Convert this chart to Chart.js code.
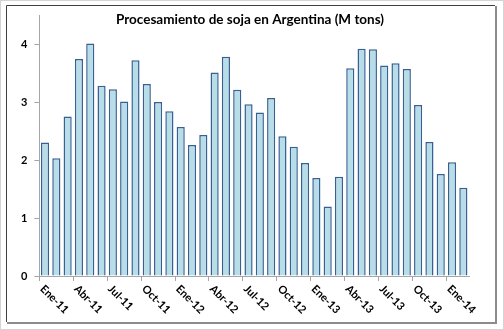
<!DOCTYPE html>
<html>
<head>
<meta charset="utf-8">
<script src="https://cdn.jsdelivr.net/npm/chart.js@4.4.0/dist/chart.umd.min.js"></script>
<style>
  html, body { margin: 0; padding: 0; background: #fff; }
  #wrap { width: 504px; height: 330px; }
</style>
</head>
<body>
<div id="wrap"><canvas id="sojaChart" width="504" height="330"></canvas></div>
<script>
// meses ene-2011 .. feb-2014
const months = [
  'Ene-11','Feb-11','Mar-11','Abr-11','May-11','Jun-11','Jul-11','Ago-11','Sep-11','Oct-11','Nov-11','Dic-11',
  'Ene-12','Feb-12','Mar-12','Abr-12','May-12','Jun-12','Jul-12','Ago-12','Sep-12','Oct-12','Nov-12','Dic-12',
  'Ene-13','Feb-13','Mar-13','Abr-13','May-13','Jun-13','Jul-13','Ago-13','Sep-13','Oct-13','Nov-13','Dic-13',
  'Ene-14','Feb-14'
];

// M tons
const crushing = [
  2.30, 2.03, 2.75, 3.74, 4.01, 3.28, 3.22, 3.01, 3.72, 3.31, 3.00, 2.84,
  2.57, 2.26, 2.43, 3.51, 3.78, 3.21, 2.96, 2.82, 3.07, 2.41, 2.23, 1.95,
  1.69, 1.20, 1.71, 3.58, 3.92, 3.91, 3.63, 3.67, 3.57, 2.95, 2.31, 1.76,
  1.96, 1.52
];

const yTicks = [0, 1, 2, 3, 4];
const labelEvery = 3;

const FONT = 'Lato, "Open Sans", sans-serif';

// marco + titulo
const framePlugin = {
    id: 'frame',
    beforeDraw(chart) {
        const ctx = chart.ctx;
        ctx.save();
        ctx.fillStyle = '#fff';
        ctx.fillRect(0, 0, chart.width, chart.height);
        ctx.strokeStyle = '#d4d4d4';
        ctx.lineWidth = 1;
        ctx.strokeRect(0.5, 0.5, chart.width - 1, chart.height - 1);
        // sombra derecha/abajo
        ctx.strokeStyle = '#8c8c8c';
        ctx.lineWidth = 2;
        ctx.beginPath();
        ctx.moveTo(496, 6);
        ctx.lineTo(496, 323);
        ctx.lineTo(7, 323);
        ctx.stroke();
        ctx.strokeStyle = '#404040';
        ctx.lineWidth = 1;
        ctx.beginPath();
        ctx.moveTo(6.5, 322);
        ctx.lineTo(6.5, 5.5);
        ctx.lineTo(495, 5.5);
        ctx.stroke();
        ctx.restore();
    },
    afterDraw(chart) {
        const ctx = chart.ctx;
        ctx.save();
        ctx.fillStyle = '#000';
        ctx.font = 'bold 13.5px ' + FONT;
        ctx.textAlign = 'center';
        ctx.textBaseline = 'middle';
        ctx.fillText('Procesamiento de soja en Argentina (M tons)', 250, 20);

        // etiquetas del eje x, giradas hacia abajo
        const xs = chart.scales.x;
        ctx.font = 'bold 11px ' + FONT;
        ctx.textAlign = 'left';
        months.forEach((m, i) => {
            if (i % labelEvery) return;
            const px = xs.getPixelForValue(i);
            ctx.save();
            ctx.translate(px - 3, xs.top + 11);
            ctx.rotate(Math.PI / 4);
            ctx.fillText(m, 0, 0);
            ctx.restore();
        });
        ctx.restore();
    }
};

new Chart(document.getElementById('sojaChart'), {
    type: 'bar',
    data: {
        labels: months,
        datasets: [{
            label: 'Procesamiento',
            data: crushing,
            backgroundColor: '#b7dde8',
            borderColor: '#3a6093',
            borderWidth: 1.5,
            categoryPercentage: 1,
            barPercentage: 0.72
        }]
    },
    options: {
        responsive: false,
        animation: false,
        devicePixelRatio: 1,
        layout: { padding: { left: 14, right: 35, top: 15, bottom: 49 } },
        plugins: {
            legend: { display: false },
            tooltip: { enabled: false }
        },
        scales: {
            x: {
                offset: true,
                grid: {
                    offset: true,
                    drawOnChartArea: false,
                    drawTicks: true,
                    tickLength: 5,
                    color: ctx => (ctx.index % labelEvery === 0 ? '#a6a6a6' : 'rgba(0,0,0,0)')
                },
                border: { color: '#a6a6a6', width: 1 },
                ticks: { display: false, autoSkip: false }
            },
            y: {
                min: 0,
                max: 4.5,
                afterBuildTicks: scale => {
                    scale.ticks = yTicks.map(v => ({ value: v }));
                },
                grid: {
                    drawOnChartArea: false,
                    tickLength: 5,
                    color: '#a6a6a6'
                },
                border: { color: '#a6a6a6', width: 1 },
                ticks: {
                    padding: 7,
                    color: '#000',
                    font: { family: FONT, size: 11, weight: 'bold' }
                }
            }
        }
    },
    plugins: [framePlugin]
});
</script>
</body>
</html>
